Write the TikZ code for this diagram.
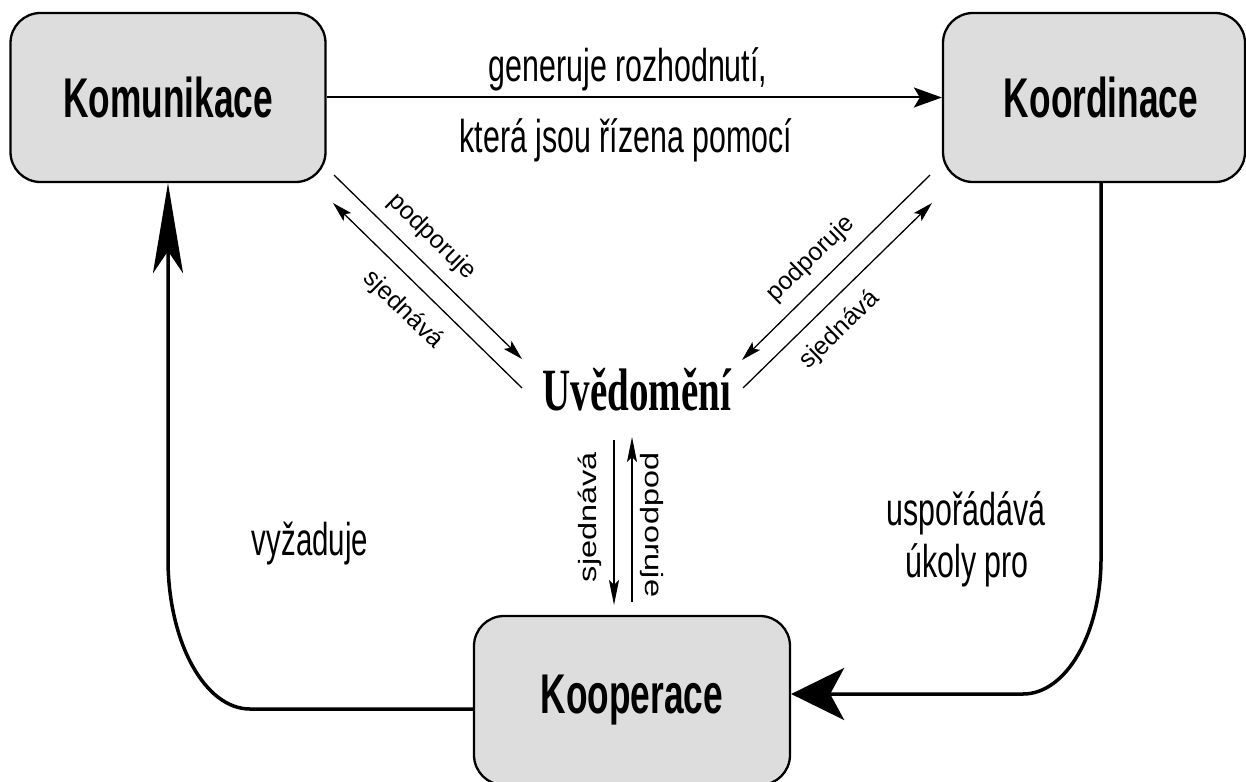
\documentclass[tikz,border=0pt]{standalone}
\usepackage{fontspec}
\setmainfont{Liberation Sans}
\newfontfamily\serifb{Liberation Serif}
\usetikzlibrary{arrows.meta}
\definecolor{boxgray}{HTML}{DDDDDD}
\newcommand{\sx}[2]{\scalebox{#1}[1]{#2}}
\begin{document}
\begin{tikzpicture}[x=1pt,y=-1pt,
  box/.style={draw=black, line width=2.3pt, fill=boxgray, rounded corners=30pt,
    minimum width=315pt, minimum height=169pt, inner sep=0pt,
    font=\fontsize{56}{60}\selectfont\bfseries},
  lbl/.style={font=\fontsize{46}{50}\selectfont, inner sep=0pt, anchor=base},
  small/.style={font=\fontsize{25}{28}\selectfont, inner sep=0pt},
  thinarrow/.style={line width=1.3pt, -{Stealth[length=20pt,width=11pt,inset=4pt]}},
  vertarrow/.style={line width=1.3pt, -{Stealth[length=25pt,width=10pt,inset=5pt]}},
  bigline/.style={line width=3.5pt}
]
\useasboundingbox[fill=white] (0,0) rectangle (1246,781);

% boxes
\node[box] (kom) at (168,97.5) {\sx{0.63}{Komunikace}};
\node[box, minimum width=302pt] (koord) at (1094,97.5) {\hspace*{14pt}\sx{0.63}{Koordinace}};
\node[box, minimum width=316pt] (koop) at (632,700.5) {\sx{0.63}{Kooperace}};

% central label
\node[font=\fontsize{60}{64}\selectfont\serifb\bfseries, inner sep=0pt, anchor=base] (uv) at (637,410) {\sx{0.65}{Uvědomění}};

% main top arrow
\draw[line width=2pt, -{Stealth[length=28pt,width=20pt,inset=6pt]}] (kom.east) -- (koord.west);
\node[lbl] (t1) at (628,82) {\sx{0.66}{generuje rozhodnutí,}};
\node[lbl] (t2) at (626,152) {\sx{0.66}{která jsou řízena pomocí}};

% left diagonal pair
\coordinate (a1) at (334,175); \coordinate (a2) at (522,359);
\coordinate (b1) at (333,203); \coordinate (b2) at (522,388);
\draw[thinarrow] (a1) -- (a2);
\draw[thinarrow] (b2) -- (b1);
\node[small, rotate=-44.4] (l1) at (432,237) {podporuje};
\node[small, rotate=-44.4] (l2) at (403,310) {sjednává};

% right diagonal pair
\coordinate (c1) at (930,175); \coordinate (c2) at (742,360);
\coordinate (d1) at (743,388); \coordinate (d2) at (932,203);
\draw[thinarrow] (c1) -- (c2);
\draw[thinarrow] (d1) -- (d2);
\node[small, rotate=44.4] (l3) at (811,259) {podporuje};
\node[small, rotate=44.4] (l4) at (840,330) {sjednává};

% vertical pair
\coordinate (e1) at (614,440); \coordinate (e2) at (614,605);
\coordinate (f1) at (632,602); \coordinate (f2) at (632,437);
\draw[vertarrow] (e1) -- (e2);
\draw[vertarrow] (f1) -- (f2);
\node[small, rotate=90] (l5) at (590,517) {\sx{1.3}{sjednává}};
\node[small, rotate=-90] (l6) at (652,525) {\sx{1.3}{podporuje}};

% big left loop: Kooperace -> Komunikace
\coordinate (lc1) at (250,709); \coordinate (lc2) at (168,559);
\draw[bigline, -{Stealth[length=90pt,width=30pt,inset=22pt]}]
  ([yshift=-8.5pt]koop.west) -- (lc1) .. controls (204.7,709) and (168,641.8) .. (lc2) -- (kom.south);
\node[lbl] (vy) at (310,555) {\sx{0.64}{vyžaduje}};

% big right loop: Koordinace -> Kooperace
\coordinate (rc1) at (1101,559); \coordinate (rc2) at (1023,694);
\draw[bigline, -{Stealth[length=53pt,width=52pt,inset=14pt]}]
  ([xshift=7pt]koord.south) -- (rc1) .. controls (1101,633.5) and (1066,694) .. (rc2) -- ([yshift=6.5pt]koop.east);
\node[lbl] (us) at (966,525) {\sx{0.66}{uspořádává}};
\node[lbl] (uk) at (967,577) {\sx{0.66}{úkoly pro}};
\end{tikzpicture}
\end{document}
